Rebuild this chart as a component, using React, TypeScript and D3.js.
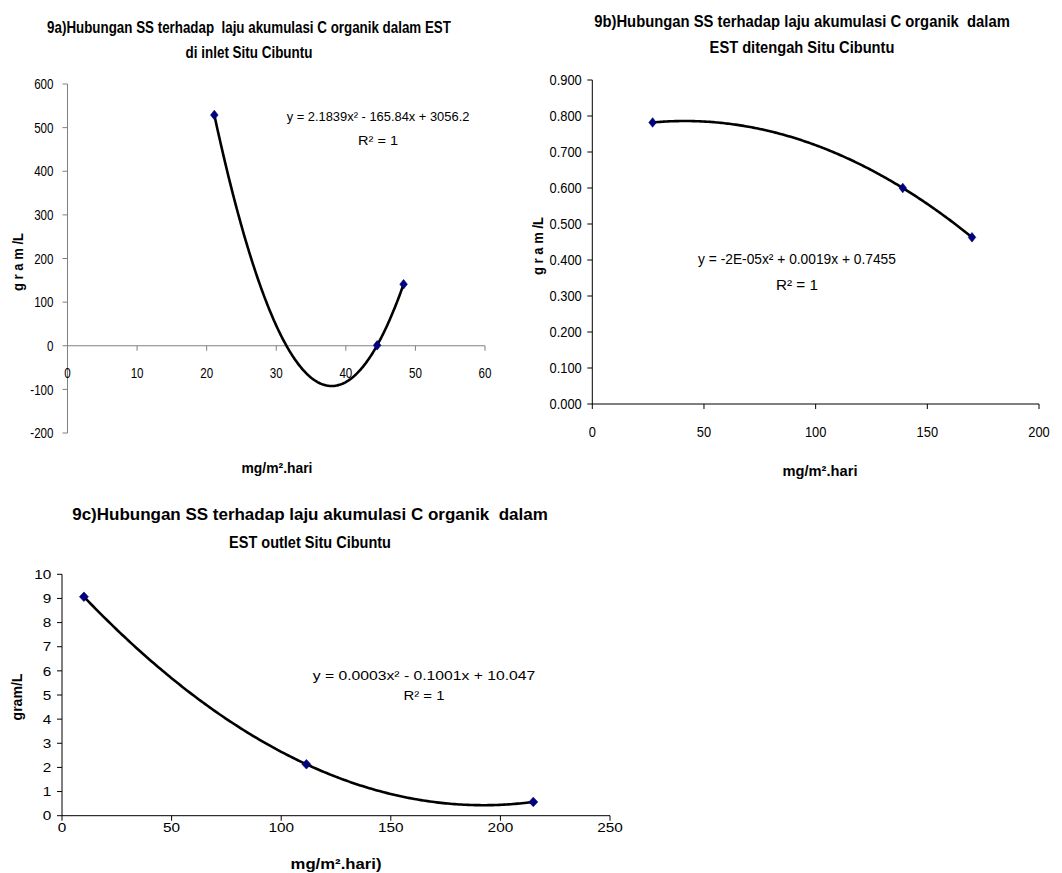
import React, { useLayoutEffect, useRef, useState } from "react";
import * as d3 from "d3";

// Accumulation rate of organic C (mg/m².hari) against suspended solids (gram/L)
const inletRate = [21.1, 44.5, 48.3];
const inletSS = [529, 1, 141];
const middleRate = [27, 139, 170];
const middleSS = [0.782, 0.6, 0.463];
const outletRate = [10, 111.5, 215];
const outletSS = [9.07, 2.13, 0.57];

const inletXTicks = [0, 10, 20, 30, 40, 50, 60];
const inletYTicks = [-200, -100, 0, 100, 200, 300, 400, 500, 600];
const middleXTicks = [0, 50, 100, 150, 200];
const middleYTicks = [0, 0.1, 0.2, 0.3, 0.4, 0.5, 0.6, 0.7, 0.8, 0.9];
const outletXTicks = [0, 50, 100, 150, 200, 250];
const outletYTicks = [0, 1, 2, 3, 4, 5, 6, 7, 8, 9, 10];

const inletTitle = ["9a)Hubungan SS terhadap  laju akumulasi C organik dalam EST", "di inlet Situ Cibuntu"];
const middleTitle = ["9b)Hubungan SS terhadap laju akumulasi C organik  dalam", "EST ditengah Situ Cibuntu"];
const outletTitle = ["9c)Hubungan SS terhadap laju akumulasi C organik  dalam", "EST outlet Situ Cibuntu"];

const inletEquation = "y = 2.1839x² - 165.84x + 3056.2";
const middleEquation = "y = -2E-05x² + 0.0019x + 0.7455";
const outletEquation = "y = 0.0003x² - 0.1001x + 10.047";
const rSquared = "R² = 1";

const FONT = "'Liberation Sans', Arial, sans-serif";

// Least-squares quadratic through the points (exact when there are three)
function fitQuadratic(xs: number[], ys: number[]) {
  const s = [0, 0, 0, 0, 0];
  const t = [0, 0, 0];
  xs.forEach((x, i) => {
    for (let k = 0; k < 5; k++) s[k] += Math.pow(x, k);
    for (let k = 0; k < 3; k++) t[k] += ys[i] * Math.pow(x, k);
  });
  const m = [
    [s[0], s[1], s[2], t[0]],
    [s[1], s[2], s[3], t[1]],
    [s[2], s[3], s[4], t[2]],
  ];
  for (let c = 0; c < 3; c++) {
    let p = c;
    for (let r = c + 1; r < 3; r++) if (Math.abs(m[r][c]) > Math.abs(m[p][c])) p = r;
    [m[c], m[p]] = [m[p], m[c]];
    for (let r = 0; r < 3; r++) {
      if (r === c) continue;
      const f = m[r][c] / m[c][c];
      for (let k = c; k < 4; k++) m[r][k] -= f * m[c][k];
    }
  }
  const c0 = m[0][3] / m[0][0];
  const c1 = m[1][3] / m[1][1];
  const c2 = m[2][3] / m[2][2];
  return (x: number) => c0 + c1 * x + c2 * x * x;
}

// Text squeezed or widened horizontally to a given width (narrow, tall lettering)
function Fit(props: {
  x: number;
  y: number;
  w: number;
  size: number;
  bold?: boolean;
  rotate?: boolean;
  children: string;
}) {
  const { x, y, w, size, bold, rotate, children } = props;
  const ref = useRef<SVGTextElement>(null);
  const [sx, setSx] = useState(1);
  useLayoutEffect(() => {
    const el = ref.current;
    if (!el) return;
    const natural = el.getComputedTextLength();
    if (natural > 0) setSx(w / natural);
  }, [w, size, children]);
  return (
    <text
      ref={ref}
      transform={`translate(${x},${y})${rotate ? " rotate(-90)" : ""} scale(${sx},1)`}
      textAnchor="middle"
      fontSize={size}
      fontWeight={bold ? "bold" : "normal"}
      style={{ whiteSpace: "pre" }}
    >
      {children}
    </text>
  );
}

type PanelProps = {
  xs: number[];
  ys: number[];
  xDomain: [number, number];
  yDomain: [number, number];
  xRange: [number, number];
  yRange: [number, number];
  xTicks: number[];
  yTicks: number[];
  yFormat: (v: number) => string;
  axisColor: string;
  tickSize: number;
  tickScale: number;
  yLabelGap: number;
  xLabelOffset: number;
  title: string[];
  titleX: number;
  titleY: [number, number];
  titleW: [number, number];
  titleSize: number;
  yTitle: string;
  yTitlePos: [number, number];
  yTitleW: number;
  xTitle: string;
  xTitlePos: [number, number];
  xTitleW: number;
  axisTitleSize: number;
  equation: string;
  eqX: number;
  eqY: [number, number];
  eqW: [number, number];
  eqSize: number;
  markerW: number;
};

function Panel(p: PanelProps) {
  const x = d3.scaleLinear().domain(p.xDomain).range(p.xRange);
  const y = d3.scaleLinear().domain(p.yDomain).range(p.yRange);
  const fit = fitQuadratic(p.xs, p.ys);
  const [lo, hi] = d3.extent(p.xs) as [number, number];
  const samples = d3.range(0, 201).map((i) => lo + ((hi - lo) * i) / 200);
  const line = d3
    .line<number>()
    .x((d) => x(d))
    .y((d) => y(fit(d)));
  const axisY = y(Math.max(p.yDomain[0], 0));
  const x0 = p.xRange[0];
  const mw = p.markerW;
  const diamond = `M0,-4.8L${mw},0L0,4.8L${-mw},0Z`;
  const capHalf = p.tickSize * 0.36;

  return (
    <g fontFamily={FONT} fill="#000">
      {p.title.map((t, i) => (
        <Fit key={i} x={p.titleX} y={p.titleY[i]} w={p.titleW[i]} size={p.titleSize} bold>
          {t}
        </Fit>
      ))}

      {/* y axis */}
      <line x1={x0} x2={x0} y1={p.yRange[0]} y2={p.yRange[1]} stroke={p.axisColor} strokeWidth={1} />
      {p.yTicks.map((v) => (
        <g key={"y" + v}>
          <line x1={x0 - 5} x2={x0} y1={y(v)} y2={y(v)} stroke={p.axisColor} strokeWidth={1} />
          <text
            transform={`translate(${x0 - p.yLabelGap},${y(v) + capHalf}) scale(${p.tickScale},1)`}
            textAnchor="end"
            fontSize={p.tickSize}
          >
            {p.yFormat(v)}
          </text>
        </g>
      ))}

      {/* x axis */}
      <line x1={x0} x2={p.xRange[1]} y1={axisY} y2={axisY} stroke={p.axisColor} strokeWidth={1} />
      {p.xTicks.map((v) => (
        <g key={"x" + v}>
          <line x1={x(v)} x2={x(v)} y1={axisY} y2={axisY + 5} stroke={p.axisColor} strokeWidth={1} />
          <text
            transform={`translate(${x(v)},${axisY + p.xLabelOffset}) scale(${p.tickScale},1)`}
            textAnchor="middle"
            fontSize={p.tickSize}
          >
            {v}
          </text>
        </g>
      ))}

      <Fit x={p.yTitlePos[0]} y={p.yTitlePos[1]} w={p.yTitleW} size={p.axisTitleSize} bold rotate>
        {p.yTitle}
      </Fit>
      <Fit x={p.xTitlePos[0]} y={p.xTitlePos[1]} w={p.xTitleW} size={p.axisTitleSize} bold>
        {p.xTitle}
      </Fit>

      <path d={line(samples) || ""} fill="none" stroke="#000" strokeWidth={2.6} strokeLinejoin="round" />

      {p.xs.map((v, i) => (
        <path
          key={i}
          d={diamond}
          transform={`translate(${x(v)},${y(p.ys[i])})`}
          fill="#000080"
          stroke="#00006a"
          strokeWidth={0.6}
        />
      ))}

      <Fit x={p.eqX} y={p.eqY[0]} w={p.eqW[0]} size={p.eqSize}>
        {p.equation}
      </Fit>
      <Fit x={p.eqX} y={p.eqY[1]} w={p.eqW[1]} size={p.eqSize}>
        {rSquared}
      </Fit>
    </g>
  );
}

export default function App() {
  return (
    <svg width={1062} height={873} style={{ position: "absolute", left: 0, top: 0 }}>
      <rect width={1062} height={873} fill="#fff" />
      <Panel
        xs={inletRate}
        ys={inletSS}
        xDomain={[0, 60]}
        yDomain={[-200, 600]}
        xRange={[67.5, 485]}
        yRange={[433, 84]}
        xTicks={inletXTicks}
        yTicks={inletYTicks}
        yFormat={(v) => String(v)}
        axisColor="#808080"
        tickSize={14.5}
        tickScale={0.8}
        yLabelGap={14}
        xLabelOffset={32}
        title={inletTitle}
        titleX={249}
        titleY={[33, 57.5]}
        titleW={[404, 127]}
        titleSize={16}
        yTitle="g r a m /L"
        yTitlePos={[23, 262]}
        yTitleW={58}
        xTitle="mg/m².hari"
        xTitlePos={[277, 473]}
        xTitleW={71}
        axisTitleSize={14}
        equation={inletEquation}
        eqX={378}
        eqY={[121, 145]}
        eqW={[183, 40]}
        eqSize={13}
        markerW={3.8}
      />
      <Panel
        xs={middleRate}
        ys={middleSS}
        xDomain={[0, 200]}
        yDomain={[0, 0.9]}
        xRange={[592.3, 1039]}
        yRange={[404, 80]}
        xTicks={middleXTicks}
        yTicks={middleYTicks}
        yFormat={d3.format(".3f")}
        axisColor="#000"
        tickSize={15}
        tickScale={0.86}
        yLabelGap={10.5}
        xLabelOffset={33}
        title={middleTitle}
        titleX={802}
        titleY={[26.5, 52.5]}
        titleW={[416, 185]}
        titleSize={17}
        yTitle="g r a m /L"
        yTitlePos={[543, 246]}
        yTitleW={58}
        xTitle="mg/m².hari"
        xTitlePos={[820, 476]}
        xTitleW={75}
        axisTitleSize={15}
        equation={middleEquation}
        eqX={797}
        eqY={[264, 290]}
        eqW={[198, 42]}
        eqSize={14}
        markerW={3.8}
      />
      <Panel
        xs={outletRate}
        ys={outletSS}
        xDomain={[0, 250]}
        yDomain={[0, 10]}
        xRange={[62, 610]}
        yRange={[815.7, 574.3]}
        xTicks={outletXTicks}
        yTicks={outletYTicks}
        yFormat={(v) => String(v)}
        axisColor="#000"
        tickSize={13}
        tickScale={1.18}
        yLabelGap={10.6}
        xLabelOffset={16.5}
        title={outletTitle}
        titleX={310}
        titleY={[520, 548]}
        titleW={[476, 162]}
        titleSize={17}
        yTitle="gram/L"
        yTitlePos={[22, 697]}
        yTitleW={47}
        xTitle="mg/m².hari)"
        xTitlePos={[336, 869]}
        xTitleW={91}
        axisTitleSize={14}
        equation={outletEquation}
        eqX={424}
        eqY={[680, 700]}
        eqW={[223, 41]}
        eqSize={13}
        markerW={4.5}
      />
    </svg>
  );
}
